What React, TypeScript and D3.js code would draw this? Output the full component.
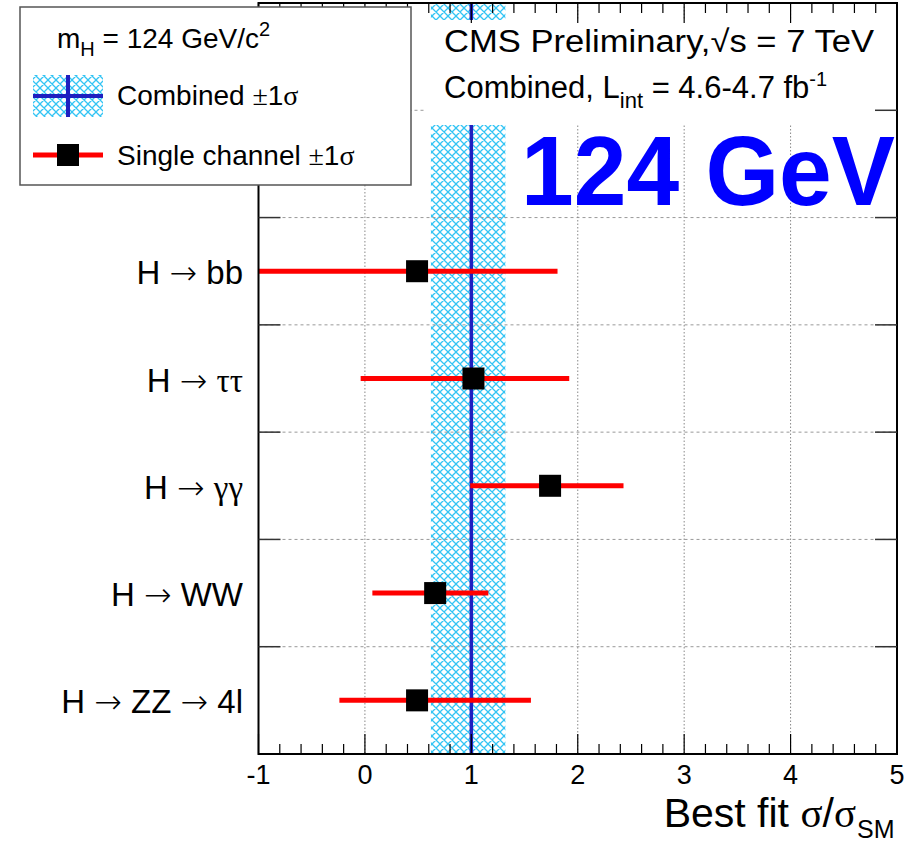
import React, { useEffect, useRef } from "react";
import * as d3 from "d3";

// channels, top to bottom
const channels = ["H → bb", "H → ττ", "H → γγ", "H → WW", "H → ZZ → 4l"];
const bestFit = [0.49, 1.02, 1.74, 0.66, 0.49];
const errLow = [-1.3, -0.04, 0.99, 0.07, -0.24];
const errHigh = [1.81, 1.92, 2.43, 1.16, 1.56];

// combined result
const combinedMu = 1.0;
const combinedLow = 0.62;
const combinedHigh = 1.32;

const xTickLabels = [-1, 0, 1, 2, 3, 4, 5];
const yGrid = [1, 2, 3, 4, 5, 6];

const SANS = "'Liberation Sans', Arial, Helvetica, sans-serif";
const SERIF = "'Liberation Serif', 'Times New Roman', serif";

// greek letters and arrows in the ROOT plots come from the Symbol font
const addRich = (sel, str) => {
  const re = /[τγσ±]+|→|[^τγσ±→]+/g;
  const parts = str.match(re) || [];
  parts.forEach((p) => {
    const t = sel.append("tspan").text(p);
    if (p === "→") t.attr("font-family", "'DejaVu Sans'").attr("font-weight", 200);
    else if (/[τγσ±]/.test(p)) t.attr("font-family", SERIF);
  });
};

const App = () => {
  const svgRef = useRef(null);

  useEffect(() => {
    const W = 918;
    const H = 843;
    const left = 258.5, right = 897, top = 3, bottom = 754;

    const svg = d3.select(svgRef.current).attr("width", W).attr("height", H);
    svg.selectAll("*").remove();

    const x = d3.scaleLinear().domain([-1, 5]).range([left, right]);
    const y = d3.scaleLinear().domain([0, 7]).range([bottom, top]);

    const defs = svg.append("defs");
    const pat = defs
      .append("pattern")
      .attr("id", "hatch")
      .attr("patternUnits", "userSpaceOnUse")
      .attr("width", 8)
      .attr("height", 8);
    pat.append("rect").attr("width", 8).attr("height", 8).attr("fill", "white");
    pat
      .append("path")
      .attr("d", "M0,0L8,8M8,0L0,8M-1,7L1,9M7,-1L9,1M-1,1L1,-1M7,9L9,7")
      .attr("stroke", "#33c4f4")
      .attr("stroke-width", 1.3);
    defs
      .append("clipPath")
      .attr("id", "plotclip")
      .append("rect")
      .attr("x", left)
      .attr("y", top)
      .attr("width", right - left)
      .attr("height", bottom - top);

    svg.append("rect").attr("width", W).attr("height", H).attr("fill", "white");

    // combined band
    svg
      .append("rect")
      .attr("x", x(combinedLow))
      .attr("y", top)
      .attr("width", x(combinedHigh) - x(combinedLow))
      .attr("height", bottom - top)
      .attr("fill", "url(#hatch)");

    // grid
    svg
      .append("g")
      .selectAll("line")
      .data(yGrid)
      .join("line")
      .attr("x1", left)
      .attr("x2", right)
      .attr("y1", (d) => y(d))
      .attr("y2", (d) => y(d))
      .attr("stroke", "#999")
      .attr("stroke-width", 1)
      .attr("stroke-dasharray", "3,3");
    svg
      .append("g")
      .selectAll("line")
      .data([0, 1, 2, 3, 4])
      .join("line")
      .attr("x1", (d) => x(d))
      .attr("x2", (d) => x(d))
      .attr("y1", top)
      .attr("y2", bottom)
      .attr("stroke", "#888")
      .attr("stroke-width", 1)
      .attr("stroke-dasharray", "1.5,2");

    // combined line
    svg
      .append("line")
      .attr("x1", x(combinedMu))
      .attr("x2", x(combinedMu))
      .attr("y1", top)
      .attr("y2", bottom)
      .attr("stroke", "#1f1fc0")
      .attr("stroke-width", 3.5);

    // white box behind the CMS label
    svg
      .append("rect")
      .attr("x", 425)
      .attr("y", 20)
      .attr("width", right - 425)
      .attr("height", 105)
      .attr("fill", "white");

    // single channel points
    const pts = channels.map((c, i) => ({
      name: c,
      yv: channels.length - 0.5 - i,
      mu: bestFit[i],
      lo: errLow[i],
      hi: errHigh[i],
    }));
    const g = svg.append("g").attr("clip-path", "url(#plotclip)");
    g.selectAll("line")
      .data(pts)
      .join("line")
      .attr("x1", (d) => x(d.lo))
      .attr("x2", (d) => x(d.hi))
      .attr("y1", (d) => y(d.yv))
      .attr("y2", (d) => y(d.yv))
      .attr("stroke", "red")
      .attr("stroke-width", 5);
    g.selectAll("rect")
      .data(pts)
      .join("rect")
      .attr("x", (d) => x(d.mu) - 11)
      .attr("y", (d) => y(d.yv) - 11)
      .attr("width", 22)
      .attr("height", 22)
      .attr("fill", "black");

    // frame + ticks
    const ax = svg.append("g").attr("stroke", "black");
    ax.append("rect")
      .attr("x", left)
      .attr("y", top)
      .attr("width", right - left)
      .attr("height", bottom - top)
      .attr("fill", "none")
      .attr("stroke-width", 2);
    const xt = x.ticks(30);
    const isMajor = (v) => Math.abs(v - Math.round(v)) < 1e-6;
    ax.selectAll(".tb")
      .data(xt)
      .join("line")
      .attr("class", "tb")
      .attr("x1", (d) => x(d))
      .attr("x2", (d) => x(d))
      .attr("y1", bottom)
      .attr("y2", (d) => bottom - (isMajor(d) ? 20 : 10))
      .attr("stroke-width", 1.2);
    ax.selectAll(".tt")
      .data(xt)
      .join("line")
      .attr("class", "tt")
      .attr("x1", (d) => x(d))
      .attr("x2", (d) => x(d))
      .attr("y1", top)
      .attr("y2", (d) => top + (isMajor(d) ? 20 : 10))
      .attr("stroke-width", 1.2);
    ax.selectAll(".tl")
      .data(yGrid)
      .join("line")
      .attr("class", "tl")
      .attr("x1", left)
      .attr("x2", left + 22)
      .attr("y1", (d) => y(d))
      .attr("y2", (d) => y(d))
      .attr("stroke", "#333")
      .attr("stroke-width", 1.5);
    ax.selectAll(".tr")
      .data(yGrid)
      .join("line")
      .attr("class", "tr")
      .attr("x1", right)
      .attr("x2", right - 22)
      .attr("y1", (d) => y(d))
      .attr("y2", (d) => y(d))
      .attr("stroke", "#333")
      .attr("stroke-width", 1.5);

    // x tick labels
    svg
      .append("g")
      .selectAll("text")
      .data(xTickLabels)
      .join("text")
      .attr("x", (d) => x(d))
      .attr("y", 784)
      .attr("text-anchor", "middle")
      .attr("font-family", SANS)
      .attr("font-size", 27)
      .text((d) => d);

    // axis title
    const xt2 = svg
      .append("text")
      .attr("x", 856)
      .attr("y", 827)
      .attr("text-anchor", "end")
      .attr("font-family", SANS)
      .attr("font-size", 41);
    xt2.append("tspan").text("Best fit ");
    xt2.append("tspan").attr("font-family", SERIF).text("σ");
    xt2.append("tspan").text("/");
    xt2.append("tspan").attr("font-family", SERIF).text("σ");
    svg
      .append("text")
      .attr("x", 857)
      .attr("y", 838)
      .attr("font-family", SANS)
      .attr("font-size", 25)
      .text("SM");

    // channel labels
    svg
      .append("g")
      .selectAll("text")
      .data(pts)
      .join("text")
      .attr("x", 243)
      .attr("y", (d) => y(d.yv) + 13)
      .attr("text-anchor", "end")
      .attr("font-family", SANS)
      .attr("font-size", 33)
      .each(function (d) {
        addRich(d3.select(this), d.name);
      });

    // CMS label
    const c1 = svg
      .append("text")
      .attr("x", 444)
      .attr("y", 52)
      .attr("font-family", SANS)
      .attr("font-size", 31)
      .attr("textLength", 430)
      .attr("lengthAdjust", "spacingAndGlyphs");
    c1.append("tspan").text("CMS Preliminary,√s = 7 TeV");
    const c2 = svg
      .append("text")
      .attr("x", 444)
      .attr("y", 98)
      .attr("font-family", SANS)
      .attr("font-size", 31);
    c2.append("tspan").text("Combined, L");
    c2.append("tspan").attr("font-size", 22).attr("dy", 10).text("int");
    c2.append("tspan").attr("dy", -10).text(" = 4.6-4.7 fb");
    c2.append("tspan").attr("font-size", 20).attr("dy", -12).text("-1");

    svg
      .append("text")
      .attr("x", 521)
      .attr("y", 205)
      .attr("font-family", SANS)
      .attr("font-weight", "bold")
      .attr("font-size", 98)
      .attr("textLength", 374)
      .attr("lengthAdjust", "spacingAndGlyphs")
      .attr("fill", "#0000ff")
      .text("124 GeV");

    // legend
    const lg = svg.append("g");
    lg.append("rect")
      .attr("x", 20)
      .attr("y", 7)
      .attr("width", 391)
      .attr("height", 178)
      .attr("fill", "white")
      .attr("stroke", "#555")
      .attr("stroke-width", 1.5);
    const m = lg
      .append("text")
      .attr("x", 57)
      .attr("y", 48)
      .attr("font-family", SANS)
      .attr("font-size", 28);
    m.append("tspan").text("m");
    m.append("tspan").attr("font-size", 20).attr("dy", 8).text("H");
    m.append("tspan").attr("dy", -8).text(" = 124 GeV/c");
    m.append("tspan").attr("font-size", 20).attr("dy", -12).text("2");

    lg.append("rect")
      .attr("x", 33)
      .attr("y", 75)
      .attr("width", 70)
      .attr("height", 42)
      .attr("fill", "url(#hatch)");
    lg.append("line")
      .attr("x1", 33)
      .attr("x2", 103)
      .attr("y1", 96)
      .attr("y2", 96)
      .attr("stroke", "#1f1fc0")
      .attr("stroke-width", 4);
    lg.append("line")
      .attr("x1", 68)
      .attr("x2", 68)
      .attr("y1", 75)
      .attr("y2", 117)
      .attr("stroke", "#1f1fc0")
      .attr("stroke-width", 4);
    lg.append("text")
      .attr("x", 117)
      .attr("y", 105)
      .attr("font-family", SANS)
      .attr("font-size", 28)
      .each(function () {
        addRich(d3.select(this), "Combined ±1σ");
      });

    lg.append("line")
      .attr("x1", 33)
      .attr("x2", 103)
      .attr("y1", 155)
      .attr("y2", 155)
      .attr("stroke", "red")
      .attr("stroke-width", 5);
    lg.append("rect")
      .attr("x", 57)
      .attr("y", 144)
      .attr("width", 22)
      .attr("height", 22)
      .attr("fill", "black");
    lg.append("text")
      .attr("x", 117)
      .attr("y", 165)
      .attr("font-family", SANS)
      .attr("font-size", 28)
      .each(function () {
        addRich(d3.select(this), "Single channel ±1σ");
      });
  }, []);

  return (
    <div style={{ position: "absolute", left: 0, top: 0 }}>
      <svg ref={svgRef} style={{ display: "block" }}></svg>
    </div>
  );
};

export default App;
